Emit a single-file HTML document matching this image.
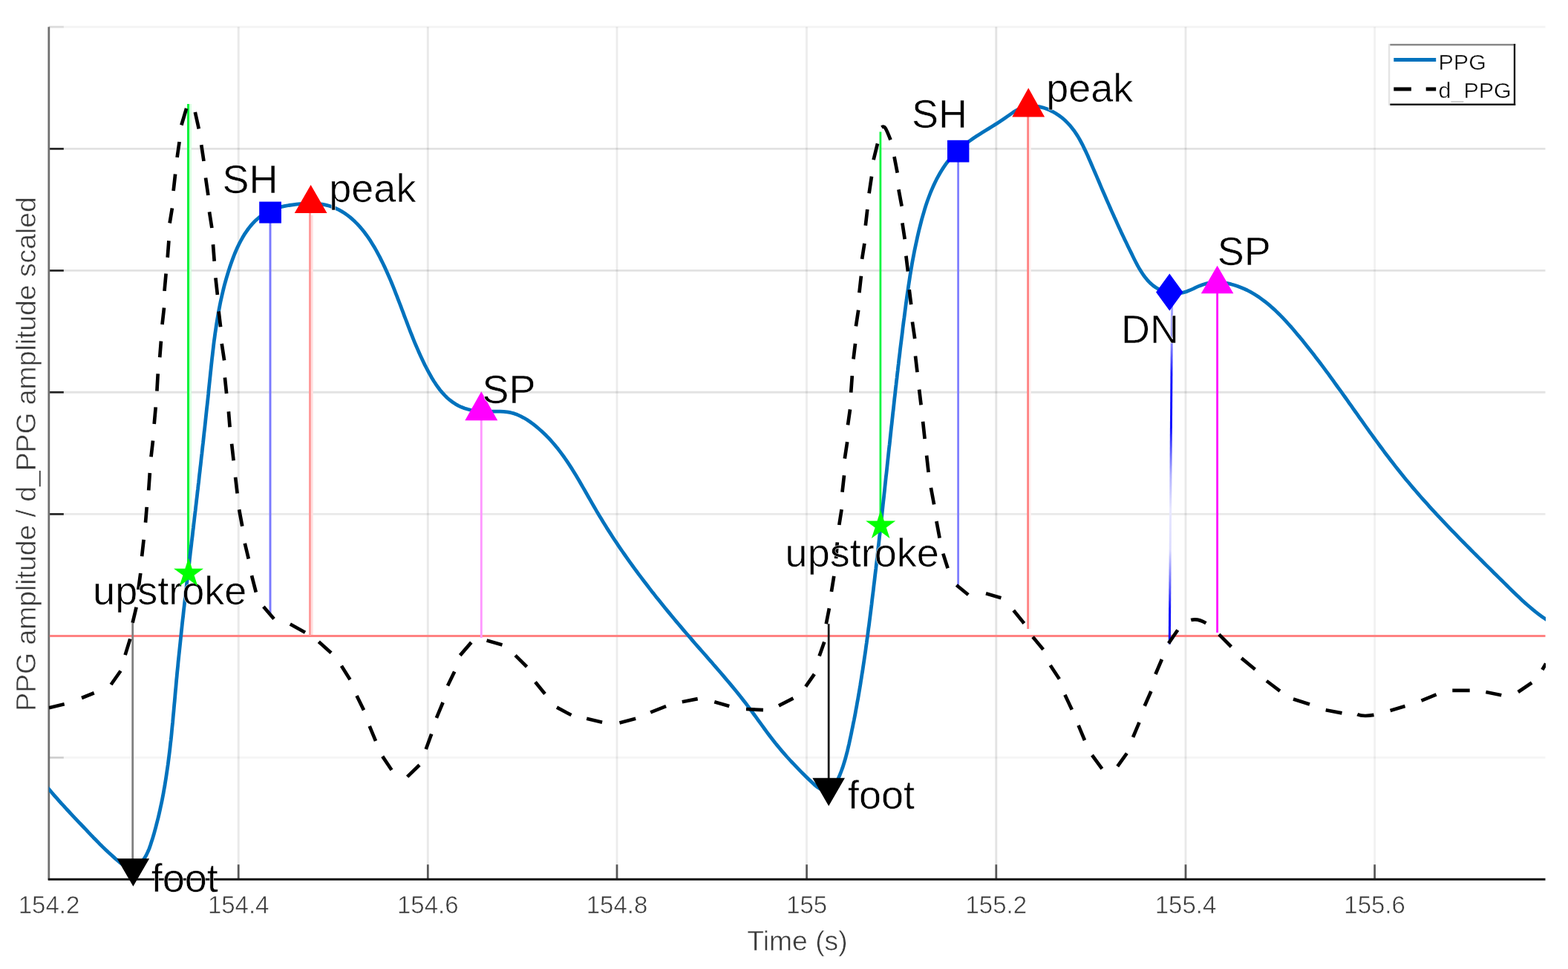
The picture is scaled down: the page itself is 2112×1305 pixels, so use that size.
<!DOCTYPE html>
<html lang="en">
<head>
<meta charset="utf-8">
<title>PPG fiducial points</title>
<style>
html,body{margin:0;padding:0;background:#fff;}
body{width:2112px;height:1305px;overflow:hidden;}
svg{display:block;}
</style>
</head>
<body>
<svg width="2112" height="1305" viewBox="0 0 2112 1305" role="img" aria-label="PPG and d_PPG with fiducial points">
<defs><linearGradient id="dnfade" x1="0" y1="412" x2="0" y2="868" gradientUnits="userSpaceOnUse"><stop offset="0" stop-color="#a8a8ff"/><stop offset="0.12" stop-color="#8080ff"/><stop offset="0.2" stop-color="#1818ff"/><stop offset="0.36" stop-color="#1010ff"/><stop offset="0.5" stop-color="#b0b0ff"/><stop offset="0.6" stop-color="#e8e8ff"/><stop offset="0.72" stop-color="#dcdcff"/><stop offset="0.84" stop-color="#5050ff"/><stop offset="0.9" stop-color="#0808ff"/><stop offset="1" stop-color="#0000f0"/></linearGradient></defs>
<clipPath id="ax"><rect x="65.8" y="0" width="2016.2" height="1305"/></clipPath>
<rect width="2112" height="1305" fill="#fff"/>
<g stroke-width="2.9" fill="none">
<line x1="321.2" y1="36.2" x2="321.2" y2="1184.3" stroke="rgba(0,0,0,0.085)"/>
<line x1="576.3" y1="36.2" x2="576.3" y2="1184.3" stroke="rgba(0,0,0,0.085)"/>
<line x1="831.0" y1="36.2" x2="831.0" y2="1184.3" stroke="rgba(0,0,0,0.075)"/>
<line x1="1086.5" y1="36.2" x2="1086.5" y2="1184.3" stroke="rgba(0,0,0,0.07)"/>
<line x1="1341.8" y1="36.2" x2="1341.8" y2="1184.3" stroke="rgba(0,0,0,0.11)"/>
<line x1="1597.0" y1="36.2" x2="1597.0" y2="1184.3" stroke="rgba(0,0,0,0.085)"/>
<line x1="1851.6" y1="36.2" x2="1851.6" y2="1184.3" stroke="rgba(0,0,0,0.055)"/>
<line x1="65.8" y1="36.2" x2="2081.5" y2="36.2" stroke="rgba(0,0,0,0.045)"/>
<line x1="65.8" y1="200.4" x2="2081.5" y2="200.4" stroke="rgba(0,0,0,0.115)"/>
<line x1="65.8" y1="364.4" x2="2081.5" y2="364.4" stroke="rgba(0,0,0,0.115)"/>
<line x1="65.8" y1="528.3" x2="2081.5" y2="528.3" stroke="rgba(0,0,0,0.11)"/>
<line x1="65.8" y1="692.4" x2="2081.5" y2="692.4" stroke="rgba(0,0,0,0.085)"/>
<line x1="65.8" y1="1020.3" x2="2081.5" y2="1020.3" stroke="rgba(0,0,0,0.04)"/>
</g>
<g fill="none">
<line x1="65.8" y1="36.2" x2="85.8" y2="36.2" stroke="#dcdcdc" stroke-width="2.7"/>
<line x1="65.8" y1="200.4" x2="85.8" y2="200.4" stroke="#242424" stroke-width="2.7"/>
<line x1="65.8" y1="364.4" x2="85.8" y2="364.4" stroke="#242424" stroke-width="2.7"/>
<line x1="65.8" y1="528.3" x2="85.8" y2="528.3" stroke="#242424" stroke-width="2.7"/>
<line x1="65.8" y1="692.4" x2="85.8" y2="692.4" stroke="#242424" stroke-width="2.7"/>
<line x1="65.8" y1="1020.3" x2="85.8" y2="1020.3" stroke="#cfcfcf" stroke-width="2.7"/>
<line x1="321.2" y1="1184.3" x2="321.2" y2="1164.3" stroke="#585858" stroke-width="2.7"/>
<line x1="576.3" y1="1184.3" x2="576.3" y2="1164.3" stroke="#585858" stroke-width="2.7"/>
<line x1="831.0" y1="1184.3" x2="831.0" y2="1164.3" stroke="#585858" stroke-width="2.7"/>
<line x1="1086.6" y1="1184.3" x2="1086.6" y2="1164.3" stroke="#585858" stroke-width="2.7"/>
<line x1="1341.8" y1="1184.3" x2="1341.8" y2="1164.3" stroke="#585858" stroke-width="2.7"/>
<line x1="1597.0" y1="1184.3" x2="1597.0" y2="1164.3" stroke="#585858" stroke-width="2.7"/>
<line x1="1851.6" y1="1184.3" x2="1851.6" y2="1164.3" stroke="#585858" stroke-width="2.7"/>
<line x1="65.8" y1="36.2" x2="65.8" y2="1185.3" stroke="#707070" stroke-width="2.8"/>
<line x1="64.8" y1="1184.3" x2="2081.5" y2="1184.3" stroke="#151515" stroke-width="3.0"/>
</g>
<line x1="66.8" y1="856.4" x2="2081.5" y2="856.4" stroke="#ff8282" stroke-width="3.0"/>
<line x1="253.5" y1="140.0" x2="253.5" y2="773.0" stroke="#08f23c" stroke-width="3.0"/>
<line x1="256.4" y1="140.0" x2="256.4" y2="765.0" stroke="#d4ffdc" stroke-width="2.8"/>
<line x1="1185.9" y1="177.6" x2="1185.9" y2="708.0" stroke="#10f542" stroke-width="2.8"/>
<line x1="364.0" y1="290.0" x2="364.0" y2="827.0" stroke="#7a7aff" stroke-width="2.9"/>
<line x1="1290.6" y1="210.0" x2="1290.6" y2="788.0" stroke="#8080ff" stroke-width="2.8"/>
<line x1="417.5" y1="280.0" x2="417.5" y2="856.0" stroke="#ff9999" stroke-width="2.9"/>
<line x1="420.3" y1="290.0" x2="420.3" y2="855.0" stroke="#ffe0e0" stroke-width="2.8"/>
<line x1="1384.7" y1="150.0" x2="1384.7" y2="847.0" stroke="#ff8484" stroke-width="3.0"/>
<line x1="1387.4" y1="160.0" x2="1387.4" y2="847.0" stroke="#fff0f0" stroke-width="2.4"/>
<line x1="648.3" y1="560.0" x2="648.3" y2="859.0" stroke="#ff99ff" stroke-width="2.9"/>
<line x1="1639.6" y1="390.0" x2="1639.6" y2="852.0" stroke="#ff14ff" stroke-width="2.9"/>
<line x1="1578.6" y1="412.0" x2="1575.3" y2="867.5" stroke="url(#dnfade)" stroke-width="3.0"/>
<line x1="178.7" y1="838.7" x2="178.7" y2="1160.0" stroke="#808080" stroke-width="2.8"/>
<line x1="1116.2" y1="840.2" x2="1116.2" y2="1052.0" stroke="#1a1a1a" stroke-width="2.8"/>
<path clip-path="url(#ax)" d="M58.1 1053.4 L61.1 1057.0 L64.1 1060.7 L67.2 1064.3 L70.3 1068.0 L73.4 1071.6 L76.6 1075.2 L79.8 1078.8 L83.0 1082.4 L86.3 1085.9 L89.5 1089.5 L92.8 1093.0 L96.1 1096.6 L99.4 1100.1 L102.7 1103.6 L106.0 1107.1 L109.3 1110.5 L112.6 1114.0 L115.9 1117.4 L119.1 1120.9 L122.4 1124.3 L125.6 1127.7 L128.9 1131.0 L132.2 1134.4 L135.5 1137.8 L138.9 1141.1 L142.4 1144.4 L145.9 1147.8 L149.5 1151.1 L153.2 1154.4 L156.9 1157.7 L160.8 1161.0 L164.9 1164.1 L169.0 1166.9 L173.1 1168.7 L177.3 1169.3 L181.5 1168.1 L185.4 1165.7 L188.9 1162.7 L192.0 1159.3 L194.7 1155.6 L197.1 1151.5 L199.1 1147.3 L201.0 1142.9 L202.6 1138.3 L204.1 1133.6 L205.6 1128.9 L207.0 1124.3 L208.3 1119.6 L209.6 1114.9 L210.8 1110.2 L212.0 1105.5 L213.2 1100.8 L214.3 1096.1 L215.4 1091.3 L216.4 1086.6 L217.4 1081.9 L218.4 1077.2 L219.3 1072.5 L220.2 1067.7 L221.0 1063.0 L221.9 1058.3 L222.6 1053.6 L223.4 1048.8 L224.1 1044.1 L224.8 1039.4 L225.5 1034.6 L226.2 1029.9 L226.8 1025.1 L227.4 1020.4 L228.0 1015.6 L228.6 1010.9 L229.1 1006.2 L229.6 1001.4 L230.2 996.7 L230.7 991.9 L231.2 987.1 L231.6 982.4 L232.1 977.6 L232.6 972.9 L233.0 968.1 L233.4 963.4 L233.9 958.6 L234.3 953.9 L234.7 949.1 L235.2 944.3 L235.6 939.6 L236.0 934.8 L236.4 930.1 L236.9 925.3 L237.3 920.5 L237.7 915.8 L238.2 911.0 L238.6 906.3 L239.1 901.5 L239.6 896.7 L240.0 892.0 L240.5 887.2 L241.0 882.5 L241.5 877.7 L242.0 872.9 L242.5 868.2 L243.0 863.4 L243.5 858.7 L244.0 853.9 L244.5 849.1 L245.0 844.4 L245.5 839.6 L246.0 834.9 L246.6 830.1 L247.1 825.3 L247.6 820.6 L248.2 815.8 L248.7 811.1 L249.3 806.3 L249.8 801.5 L250.3 796.8 L250.9 792.0 L251.4 787.3 L252.0 782.5 L252.5 777.7 L253.1 773.0 L253.7 768.2 L254.2 763.5 L254.8 758.7 L255.3 753.9 L255.9 749.2 L256.4 744.4 L257.0 739.6 L257.6 734.9 L258.1 730.1 L258.7 725.4 L259.3 720.6 L259.8 715.8 L260.4 711.1 L260.9 706.3 L261.5 701.5 L262.0 696.8 L262.6 692.0 L263.2 687.3 L263.7 682.5 L264.3 677.7 L264.8 673.0 L265.4 668.2 L265.9 663.4 L266.5 658.7 L267.0 653.9 L267.6 649.2 L268.1 644.4 L268.6 639.6 L269.2 634.9 L269.7 630.1 L270.3 625.3 L270.8 620.6 L271.3 615.8 L271.9 611.1 L272.4 606.3 L272.9 601.5 L273.5 596.8 L274.0 592.0 L274.5 587.3 L275.0 582.5 L275.6 577.7 L276.1 573.0 L276.6 568.2 L277.1 563.5 L277.6 558.7 L278.1 553.9 L278.6 549.2 L279.2 544.4 L279.7 539.7 L280.2 534.9 L280.7 530.2 L281.1 525.4 L281.6 520.7 L282.1 515.9 L282.6 511.2 L283.1 506.4 L283.6 501.6 L284.1 496.9 L284.6 492.1 L285.1 487.4 L285.6 482.7 L286.2 477.9 L286.7 473.2 L287.3 468.4 L287.8 463.7 L288.4 459.0 L289.1 454.2 L289.7 449.5 L290.4 444.8 L291.1 440.1 L291.8 435.3 L292.6 430.6 L293.4 425.9 L294.2 421.2 L295.1 416.5 L296.0 411.8 L296.9 407.1 L297.9 402.4 L299.0 397.7 L300.1 393.0 L301.2 388.4 L302.4 383.7 L303.7 379.0 L305.0 374.4 L306.4 369.7 L307.8 365.1 L309.3 360.4 L310.9 355.8 L312.5 351.2 L314.2 346.6 L316.0 342.0 L317.9 337.5 L319.9 333.1 L322.0 328.7 L324.2 324.5 L326.5 320.3 L328.9 316.2 L331.5 312.3 L334.2 308.5 L337.0 304.9 L340.0 301.4 L343.1 298.1 L346.5 295.0 L349.9 292.2 L353.6 289.5 L357.4 287.0 L361.5 284.8 L365.7 282.9 L370.1 281.2 L374.7 279.7 L379.4 278.4 L384.2 277.4 L389.1 276.5 L394.1 275.8 L399.2 275.2 L404.3 274.7 L409.4 274.3 L414.5 274.1 L419.5 274.1 L424.5 274.2 L429.4 274.6 L434.2 275.2 L438.9 276.1 L443.4 277.3 L447.8 278.8 L452.0 280.5 L456.1 282.4 L460.1 284.6 L464.0 287.0 L467.7 289.6 L471.3 292.4 L474.8 295.4 L478.2 298.6 L481.5 301.9 L484.7 305.4 L487.8 309.0 L490.8 312.8 L493.7 316.7 L496.5 320.7 L499.2 324.7 L501.8 328.9 L504.3 333.1 L506.8 337.4 L509.2 341.8 L511.5 346.1 L513.7 350.6 L515.9 355.0 L518.0 359.4 L520.0 363.8 L522.0 368.3 L524.0 372.7 L525.9 377.1 L527.7 381.5 L529.5 385.9 L531.3 390.4 L533.0 394.8 L534.7 399.2 L536.4 403.6 L538.1 408.0 L539.8 412.4 L541.4 416.8 L543.1 421.2 L544.7 425.6 L546.4 430.0 L548.1 434.4 L549.7 438.8 L551.4 443.2 L553.1 447.6 L554.9 452.0 L556.6 456.4 L558.4 460.8 L560.3 465.2 L562.2 469.6 L564.1 474.0 L566.1 478.4 L568.1 482.8 L570.2 487.2 L572.3 491.6 L574.6 496.0 L576.9 500.4 L579.3 504.7 L581.7 509.0 L584.3 513.2 L587.0 517.3 L589.8 521.3 L592.7 525.2 L595.8 528.9 L599.0 532.4 L602.3 535.7 L605.8 538.7 L609.5 541.5 L613.4 544.1 L617.4 546.3 L621.6 548.3 L626.0 550.0 L630.5 551.3 L635.1 552.5 L639.8 553.3 L644.6 553.9 L649.4 554.2 L654.3 554.3 L659.1 554.3 L664.0 554.2 L668.9 554.1 L673.7 554.1 L678.5 554.3 L683.3 554.8 L687.9 555.7 L692.5 556.9 L697.0 558.6 L701.4 560.6 L705.6 562.8 L709.8 565.3 L713.8 568.0 L717.8 570.9 L721.6 573.9 L725.3 577.0 L729.0 580.2 L732.5 583.5 L735.9 586.8 L739.2 590.2 L742.4 593.7 L745.5 597.3 L748.6 600.9 L751.6 604.6 L754.5 608.4 L757.3 612.2 L760.1 616.0 L762.8 619.9 L765.5 623.9 L768.1 627.9 L770.7 631.9 L773.2 636.0 L775.7 640.1 L778.2 644.2 L780.6 648.3 L783.0 652.5 L785.4 656.6 L787.8 660.8 L790.2 665.0 L792.6 669.2 L795.0 673.4 L797.4 677.6 L799.8 681.7 L802.2 685.9 L804.6 690.1 L807.1 694.2 L809.6 698.3 L812.1 702.4 L814.6 706.5 L817.1 710.6 L819.7 714.6 L822.3 718.6 L824.9 722.7 L827.5 726.7 L830.2 730.7 L832.8 734.6 L835.5 738.6 L838.2 742.5 L841.0 746.5 L843.7 750.4 L846.5 754.3 L849.2 758.2 L852.0 762.0 L854.8 765.9 L857.7 769.8 L860.5 773.6 L863.4 777.4 L866.3 781.2 L869.2 785.0 L872.1 788.8 L875.0 792.6 L877.9 796.4 L880.9 800.1 L883.8 803.9 L886.8 807.6 L889.8 811.3 L892.8 815.0 L895.8 818.8 L898.8 822.4 L901.9 826.1 L904.9 829.8 L908.0 833.5 L911.0 837.1 L914.1 840.8 L917.2 844.4 L920.3 848.1 L923.4 851.7 L926.5 855.3 L929.7 858.9 L932.8 862.6 L935.9 866.2 L939.1 869.8 L942.2 873.4 L945.4 877.0 L948.5 880.5 L951.7 884.1 L954.8 887.7 L958.0 891.3 L961.1 895.0 L964.3 898.6 L967.4 902.2 L970.5 905.8 L973.6 909.4 L976.7 913.1 L979.8 916.8 L982.9 920.4 L986.0 924.1 L989.0 927.8 L992.1 931.5 L995.1 935.3 L998.1 939.0 L1001.0 942.8 L1004.0 946.6 L1006.9 950.4 L1009.8 954.3 L1012.7 958.1 L1015.5 962.0 L1018.4 965.9 L1021.2 969.8 L1024.0 973.7 L1026.9 977.6 L1029.7 981.5 L1032.5 985.3 L1035.4 989.2 L1038.3 993.0 L1041.2 996.7 L1044.1 1000.5 L1047.1 1004.1 L1050.1 1007.8 L1053.1 1011.4 L1056.2 1014.9 L1059.3 1018.5 L1062.5 1022.0 L1065.7 1025.5 L1069.0 1028.9 L1072.3 1032.4 L1075.6 1035.8 L1079.0 1039.3 L1082.4 1042.7 L1085.9 1046.2 L1089.5 1049.7 L1093.1 1053.1 L1096.8 1056.6 L1100.5 1059.8 L1104.5 1062.3 L1108.7 1063.7 L1113.0 1063.8 L1117.3 1062.7 L1121.2 1060.4 L1124.4 1057.0 L1127.0 1052.8 L1129.2 1048.3 L1131.2 1043.7 L1133.0 1039.0 L1134.7 1034.4 L1136.2 1029.8 L1137.6 1025.2 L1139.0 1020.5 L1140.2 1015.9 L1141.4 1011.3 L1142.5 1006.6 L1143.6 1002.0 L1144.6 997.3 L1145.6 992.7 L1146.6 988.0 L1147.5 983.4 L1148.5 978.7 L1149.4 974.0 L1150.4 969.4 L1151.3 964.7 L1152.2 960.0 L1153.0 955.3 L1153.9 950.6 L1154.7 945.9 L1155.6 941.2 L1156.4 936.5 L1157.2 931.8 L1158.0 927.1 L1158.8 922.4 L1159.5 917.6 L1160.3 912.9 L1161.0 908.2 L1161.8 903.5 L1162.5 898.7 L1163.2 894.0 L1163.9 889.3 L1164.6 884.5 L1165.3 879.8 L1166.0 875.0 L1166.6 870.3 L1167.3 865.6 L1167.9 860.8 L1168.6 856.1 L1169.2 851.3 L1169.8 846.6 L1170.5 841.8 L1171.1 837.0 L1171.7 832.3 L1172.3 827.5 L1172.9 822.8 L1173.5 818.0 L1174.1 813.3 L1174.6 808.5 L1175.2 803.7 L1175.8 799.0 L1176.4 794.2 L1176.9 789.5 L1177.5 784.7 L1178.1 779.9 L1178.6 775.2 L1179.2 770.4 L1179.8 765.7 L1180.3 760.9 L1180.9 756.1 L1181.4 751.4 L1181.9 746.6 L1182.5 741.8 L1183.0 737.1 L1183.6 732.3 L1184.1 727.6 L1184.6 722.8 L1185.2 718.0 L1185.7 713.3 L1186.2 708.5 L1186.7 703.7 L1187.3 699.0 L1187.8 694.2 L1188.3 689.4 L1188.8 684.7 L1189.3 679.9 L1189.8 675.2 L1190.4 670.4 L1190.9 665.6 L1191.4 660.9 L1191.9 656.1 L1192.4 651.3 L1192.9 646.6 L1193.4 641.8 L1194.0 637.0 L1194.5 632.3 L1195.0 627.5 L1195.5 622.8 L1196.0 618.0 L1196.5 613.2 L1197.0 608.5 L1197.5 603.7 L1198.1 599.0 L1198.6 594.2 L1199.1 589.4 L1199.6 584.7 L1200.1 579.9 L1200.6 575.2 L1201.2 570.4 L1201.7 565.6 L1202.2 560.9 L1202.7 556.1 L1203.3 551.4 L1203.8 546.6 L1204.3 541.9 L1204.8 537.1 L1205.4 532.3 L1205.9 527.6 L1206.4 522.8 L1207.0 518.1 L1207.5 513.3 L1208.1 508.6 L1208.6 503.8 L1209.2 499.1 L1209.7 494.3 L1210.3 489.6 L1210.8 484.8 L1211.4 480.1 L1212.0 475.3 L1212.5 470.6 L1213.1 465.8 L1213.7 461.1 L1214.3 456.3 L1214.9 451.6 L1215.5 446.8 L1216.0 442.1 L1216.6 437.4 L1217.2 432.6 L1217.9 427.9 L1218.5 423.1 L1219.1 418.4 L1219.7 413.7 L1220.3 408.9 L1221.0 404.2 L1221.6 399.4 L1222.3 394.7 L1223.0 390.0 L1223.7 385.2 L1224.4 380.5 L1225.1 375.8 L1225.8 371.1 L1226.6 366.3 L1227.4 361.6 L1228.2 356.9 L1229.0 352.2 L1229.9 347.5 L1230.8 342.7 L1231.7 338.0 L1232.7 333.3 L1233.7 328.6 L1234.7 323.9 L1235.7 319.2 L1236.8 314.5 L1237.9 309.8 L1239.1 305.1 L1240.3 300.4 L1241.5 295.7 L1242.8 291.1 L1244.2 286.4 L1245.5 281.8 L1247.0 277.1 L1248.5 272.6 L1250.1 268.0 L1251.8 263.5 L1253.5 259.0 L1255.4 254.6 L1257.3 250.3 L1259.3 246.0 L1261.4 241.7 L1263.6 237.6 L1265.9 233.5 L1268.3 229.5 L1270.8 225.6 L1273.5 221.7 L1276.2 218.0 L1279.1 214.3 L1282.1 210.8 L1285.3 207.4 L1288.6 204.1 L1292.0 200.9 L1295.6 197.8 L1299.3 194.8 L1303.1 191.9 L1307.0 189.1 L1311.0 186.3 L1315.1 183.6 L1319.2 181.0 L1323.4 178.3 L1327.5 175.7 L1331.8 173.1 L1336.0 170.5 L1340.2 167.9 L1344.4 165.2 L1348.5 162.5 L1352.6 159.8 L1356.7 156.9 L1360.7 154.1 L1364.6 151.4 L1368.7 148.9 L1372.8 146.7 L1377.0 144.9 L1381.3 143.6 L1385.8 142.9 L1390.3 142.7 L1394.9 143.0 L1399.6 143.7 L1404.3 144.8 L1408.9 146.3 L1413.4 148.1 L1417.8 150.3 L1422.1 152.8 L1426.3 155.5 L1430.2 158.4 L1433.9 161.5 L1437.3 164.9 L1440.6 168.3 L1443.6 172.0 L1446.5 175.7 L1449.2 179.6 L1451.8 183.6 L1454.2 187.8 L1456.5 192.0 L1458.7 196.2 L1460.8 200.6 L1462.9 204.9 L1464.9 209.3 L1466.8 213.8 L1468.8 218.2 L1470.7 222.7 L1472.6 227.1 L1474.5 231.5 L1476.4 235.9 L1478.3 240.4 L1480.2 244.8 L1482.0 249.2 L1483.9 253.6 L1485.8 258.0 L1487.7 262.3 L1489.6 266.7 L1491.5 271.1 L1493.4 275.4 L1495.3 279.8 L1497.2 284.1 L1499.2 288.4 L1501.1 292.8 L1503.1 297.1 L1505.0 301.4 L1507.0 305.7 L1509.0 310.0 L1511.0 314.4 L1513.1 318.7 L1515.1 323.0 L1517.2 327.3 L1519.3 331.7 L1521.4 336.0 L1523.6 340.4 L1525.7 344.8 L1527.9 349.2 L1530.1 353.5 L1532.4 357.9 L1534.8 362.1 L1537.4 366.3 L1540.0 370.3 L1542.9 374.1 L1545.9 377.8 L1549.2 381.1 L1552.7 384.2 L1556.5 387.0 L1560.6 389.4 L1564.8 391.4 L1569.3 393.1 L1573.9 394.3 L1578.6 395.0 L1583.3 395.3 L1588.1 395.0 L1592.8 394.2 L1597.5 392.9 L1602.1 391.1 L1606.7 389.1 L1611.2 386.9 L1615.8 384.9 L1620.4 383.2 L1625.1 381.9 L1629.8 380.9 L1634.5 380.4 L1639.2 380.2 L1644.0 380.4 L1648.7 380.9 L1653.4 381.7 L1658.0 382.7 L1662.6 384.0 L1667.1 385.5 L1671.6 387.2 L1675.9 389.0 L1680.2 391.0 L1684.3 393.2 L1688.4 395.5 L1692.4 398.0 L1696.3 400.6 L1700.1 403.4 L1703.9 406.2 L1707.6 409.2 L1711.2 412.2 L1714.8 415.4 L1718.3 418.6 L1721.8 422.0 L1725.2 425.4 L1728.6 428.9 L1731.9 432.4 L1735.1 436.0 L1738.4 439.6 L1741.6 443.3 L1744.7 447.0 L1747.8 450.7 L1751.0 454.4 L1754.0 458.1 L1757.1 461.9 L1760.1 465.7 L1763.1 469.5 L1766.1 473.2 L1769.1 477.0 L1772.0 480.9 L1775.0 484.7 L1777.9 488.5 L1780.8 492.4 L1783.6 496.2 L1786.5 500.1 L1789.4 503.9 L1792.2 507.8 L1795.0 511.7 L1797.8 515.6 L1800.6 519.5 L1803.4 523.4 L1806.2 527.2 L1809.0 531.1 L1811.8 535.0 L1814.6 538.9 L1817.3 542.8 L1820.1 546.7 L1822.8 550.6 L1825.6 554.5 L1828.4 558.4 L1831.1 562.3 L1833.9 566.2 L1836.7 570.1 L1839.4 574.0 L1842.2 577.9 L1845.0 581.8 L1847.8 585.6 L1850.6 589.5 L1853.4 593.3 L1856.2 597.2 L1859.0 601.0 L1861.9 604.8 L1864.7 608.7 L1867.6 612.5 L1870.5 616.3 L1873.3 620.0 L1876.3 623.8 L1879.2 627.6 L1882.1 631.3 L1885.1 635.1 L1888.1 638.8 L1891.1 642.5 L1894.1 646.2 L1897.2 649.8 L1900.3 653.5 L1903.3 657.1 L1906.5 660.8 L1909.6 664.4 L1912.7 668.0 L1915.9 671.6 L1919.1 675.2 L1922.3 678.7 L1925.5 682.3 L1928.7 685.8 L1932.0 689.3 L1935.2 692.9 L1938.5 696.4 L1941.8 699.9 L1945.1 703.4 L1948.4 706.8 L1951.7 710.3 L1955.0 713.8 L1958.3 717.2 L1961.7 720.7 L1965.0 724.1 L1968.4 727.6 L1971.8 731.0 L1975.1 734.4 L1978.5 737.8 L1981.9 741.2 L1985.3 744.6 L1988.7 748.0 L1992.1 751.4 L1995.5 754.8 L1998.9 758.2 L2002.3 761.6 L2005.7 764.9 L2009.1 768.3 L2012.5 771.7 L2015.9 775.0 L2019.3 778.4 L2022.8 781.8 L2026.2 785.1 L2029.6 788.5 L2033.0 791.9 L2036.4 795.2 L2039.8 798.5 L2043.2 801.8 L2046.7 805.1 L2050.2 808.4 L2053.7 811.6 L2057.3 814.7 L2060.9 817.8 L2064.5 820.9 L2068.2 823.9 L2072.0 826.8 L2075.8 829.7 L2079.7 832.4 L2083.7 835.1 L2087.7 837.7 L2091.9 840.2" fill="none" stroke="#0072bd" stroke-width="4.8" stroke-linejoin="round"/>
<g clip-path="url(#ax)" stroke="#000" stroke-width="4.7" fill="none">
<path d="M66.0 953.3 L86.7 948.3 M110.0 940.0 L126.7 933.3 M149.5 922.0 L162.5 903.5 M168.6 882.1 L175.3 860.4 M178.6 838.7 L183.6 817.8 M186.3 794.0 L189.3 772.0 M191.1 749.3 L193.6 726.7 M196.0 703.8 L197.7 682.9 M200.2 660.4 L201.8 637.0 M203.5 615.3 L206.0 593.6 M207.7 571.0 L209.7 548.4 M211.4 526.7 L212.7 503.3 M215.2 481.3 L216.9 459.5 M218.5 437.0 L221.0 414.4 M221.5 391.9 L223.6 368.5 M225.7 346.8 L227.4 324.2 M228.6 300.5 L231.9 280.4 M233.6 257.0 L236.1 234.5 M238.6 212.0 L241.6 191.0 M244.4 168.5 L251.1 146.0 M262.8 151.0 L267.8 173.5 M271.2 195.2 L274.5 217.0 M277.0 239.5 L280.4 263.0 M282.0 285.4 L285.4 307.0 M287.0 329.2 L288.7 351.8 M290.4 374.3 L292.9 396.9 M294.6 419.4 L297.1 440.3 M298.7 462.9 L302.1 485.4 M302.9 508.4 L305.1 530.1 M307.9 554.3 L309.6 575.2 M312.1 597.7 L314.6 620.3 M317.1 642.8 L319.6 664.5 M322.1 686.3 L326.3 708.8 M329.8 731.7 L334.8 752.6 M339.0 775.2 L344.8 797.7 M354.9 816.9 L369.0 833.6 M390.8 840.5 L411.0 851.8 M429.3 864.3 L446.0 879.3 M459.9 896.8 L471.5 915.2 M480.5 937.0 L490.0 956.4 M497.7 977.8 L506.0 997.8 M515.2 1018.6 L527.5 1037.0 M548.6 1046.1 L565.0 1030.3 M573.7 1009.0 L581.2 988.5 M587.9 966.8 L596.6 946.0 M603.0 923.6 L612.2 904.4 M619.7 882.6 L634.8 865.1 M655.6 862.6 L676.5 868.4 M694.1 882.6 L709.6 898.0 M721.0 918.5 L734.0 934.4 M750.0 952.7 L769.5 963.0 M790.2 967.8 L811.1 972.8 M834.5 973.6 L856.2 967.8 M876.2 959.4 L897.1 951.1 M918.8 945.2 L939.7 941.1 M962.3 945.2 L982.3 951.1 M1005.0 955.0 L1028.0 956.2 M1049.0 950.4 L1068.5 940.4 M1085.2 924.6 L1096.9 907.8 M1103.6 883.6 L1110.3 864.4 M1112.8 840.2 L1116.9 819.3 M1119.9 796.8 L1123.3 775.9 M1126.1 752.1 L1127.8 730.4 M1130.3 707.0 L1133.6 686.1 M1134.5 662.7 L1137.0 640.2 M1137.8 617.6 L1141.2 595.1 M1142.0 572.3 L1145.0 551.3 M1146.2 528.7 L1147.8 506.2 M1149.5 483.6 L1152.0 462.7 M1152.9 439.4 L1156.2 417.6 M1157.4 394.2 L1159.9 371.7 M1161.1 348.8 L1164.4 327.9 M1165.8 303.7 L1168.3 282.0 M1170.6 260.3 L1174.0 237.7 M1176.6 215.2 L1182.0 193.4 M1187.5 171.5 Q1190.5 169.5 1192.5 172.5 Q1194.5 175.5 1199.5 188.4 M1204.5 211.0 L1208.7 232.7 M1210.4 255.2 L1214.6 277.8 M1215.4 300.4 L1218.7 322.1 M1220.4 344.6 L1222.9 365.5 M1224.7 390.1 L1227.2 410.1 M1228.9 433.5 L1232.2 456.1 M1233.0 479.4 L1235.5 501.2 M1238.1 524.6 L1240.6 545.4 M1243.1 567.7 L1245.6 590.9 M1248.1 613.5 L1250.6 636.0 M1253.9 656.9 L1258.1 679.4 M1261.4 702.0 L1265.6 724.6 M1270.3 745.6 L1276.6 765.3 M1288.3 788.0 L1304.2 801.0 M1328.0 799.3 L1348.4 805.2 M1365.2 821.9 L1379.4 839.4 M1391.1 857.8 L1405.2 874.7 M1414.7 896.0 L1426.9 914.5 M1434.4 935.7 L1443.8 955.8 M1452.6 976.9 L1461.0 997.0 M1471.0 1017.0 L1484.4 1035.4 M1505.2 1032.1 L1517.8 1014.5 M1526.1 992.8 L1534.5 972.8 M1541.7 950.8 L1550.4 931.0 M1556.4 908.0 L1564.9 888.0 M1574.0 866.3 L1586.3 848.5 M1604.2 835.1 Q1613.5 832.6 1624.4 839.3 M1641.9 854.3 L1658.4 871.0 M1672.2 886.4 L1690.5 901.5 M1706.0 917.0 L1724.0 930.7 M1742.0 941.4 L1764.0 948.5 M1785.7 956.2 L1807.5 960.4 M1828.3 962.1 Q1835.5 965.4 1850.5 962.9 M1872.6 957.1 L1892.5 951.0 M1914.5 943.7 L1934.6 935.4 M1956.3 929.9 L1979.7 929.9 M2001.4 932.0 L2022.3 936.2 M2044.8 932.0 L2063.2 919.5 M2077.4 902.0 L2082.2 893.6"/>
</g>
<polygon points="157.6,1156.2 201.2,1156.2 179.4,1193.8" fill="#000"/>
<polygon points="1094.4,1047.8 1138.0,1047.8 1116.2,1085.4" fill="#000"/>
<rect x="349.2" y="271.6" width="29.7" height="29.0" fill="#0000ff"/>
<rect x="1276.0" y="188.8" width="29.4" height="29.7" fill="#0000ff"/>
<polygon points="418.6,249.0 440.5,287.0 396.7,287.0" fill="#ff0000"/>
<polygon points="1385.2,118.4 1407.1,157.6 1363.3,157.6" fill="#ff0000"/>
<polygon points="648.3,527.3 670.3,566.2 626.3,566.2" fill="#ff00ff"/>
<polygon points="1639.6,357.7 1661.4,395.2 1617.8,395.2" fill="#ff00ff"/>
<polygon points="1575.3,368.6 1593.5,393.6 1575.3,418.6 1557.1,393.6" fill="#0000ff"/>
<g font-family="'Liberation Sans', Arial, Helvetica, sans-serif">
<g font-size="54" fill="#000" stroke="#fff" stroke-width="0.6" stroke-linejoin="round">
<text x="299.6" y="260.4">SH</text>
<text x="443.3" y="271.7">peak</text>
<text x="649.6" y="542.7">SP</text>
<text x="203.7" y="1201.3">foot</text>
<text x="125.1" y="813.6">upstroke</text>
<text x="1228.0" y="171.7">SH</text>
<text x="1409.2" y="136.8">peak</text>
<text x="1639.7" y="356.9">SP</text>
<text x="1142.0" y="1088.8">foot</text>
<text x="1057.6" y="763.0">upstroke</text>
<text x="1510.0" y="462.1">DN</text>
</g>
<g font-size="33" fill="#3a3a3a" text-anchor="middle" stroke="#fff" stroke-width="0.55" stroke-linejoin="round">
<text x="66.0" y="1230.3">154.2</text>
<text x="321.2" y="1230.3">154.4</text>
<text x="576.3" y="1230.3">154.6</text>
<text x="831.0" y="1230.3">154.8</text>
<text x="1086.7" y="1230.3">155</text>
<text x="1341.8" y="1230.3">155.2</text>
<text x="1597.0" y="1230.3">155.4</text>
<text x="1851.6" y="1230.3">155.6</text>
</g>
<text x="1074.0" y="1279.8" font-size="37.3" fill="#3a3a3a" text-anchor="middle" stroke="#fff" stroke-width="0.55" stroke-linejoin="round">Time (s)</text>
<text transform="translate(48.0 611.5) rotate(-90)" font-size="37.3" fill="#3a3a3a" text-anchor="middle" stroke="#fff" stroke-width="0.55" stroke-linejoin="round">PPG amplitude / d_PPG amplitude scaled</text>
<polygon points="254.0,751.2 258.7,765.7 274.0,765.7 261.6,774.7 266.3,789.2 254.0,780.2 241.7,789.2 246.4,774.7 234.0,765.7 249.3,765.7" fill="#00ff00"/>
<polygon points="1186.2,687.0 1190.9,701.5 1206.2,701.5 1193.8,710.5 1198.5,725.0 1186.2,716.0 1173.9,725.0 1178.6,710.5 1166.2,701.5 1181.5,701.5" fill="#00ff00"/>
<rect x="1871.1" y="60.2" width="168.9" height="80.6" fill="#fff"/>
<line x1="1871.1" y1="59.0" x2="1871.1" y2="142.0" stroke="#e4e4e4" stroke-width="2.4"/>
<line x1="1872.3" y1="60.2" x2="2041.2" y2="60.2" stroke="#8a8a8a" stroke-width="2.4"/>
<line x1="2040.0" y1="59.0" x2="2040.0" y2="142.0" stroke="#1a1a1a" stroke-width="2.4"/>
<line x1="1872.3" y1="140.8" x2="2041.2" y2="140.8" stroke="#1a1a1a" stroke-width="2.4"/>
<line x1="1877.3" y1="80.5" x2="1934.2" y2="80.5" stroke="#0072bd" stroke-width="4.9"/>
<line x1="1877.3" y1="120.0" x2="1900.9" y2="120.0" stroke="#000" stroke-width="5.0"/>
<line x1="1920.7" y1="120.0" x2="1934.2" y2="120.0" stroke="#000" stroke-width="5.0"/>
<g font-size="30.4" fill="#000" stroke="#fff" stroke-width="0.5" stroke-linejoin="round">
<text x="1937.6" y="93.9">PPG</text>
<text x="1937.6" y="131.8">d<tspan fill="#b5b5b5">_</tspan>PPG</text>
</g>
</g>
</svg>
</body>
</html>
